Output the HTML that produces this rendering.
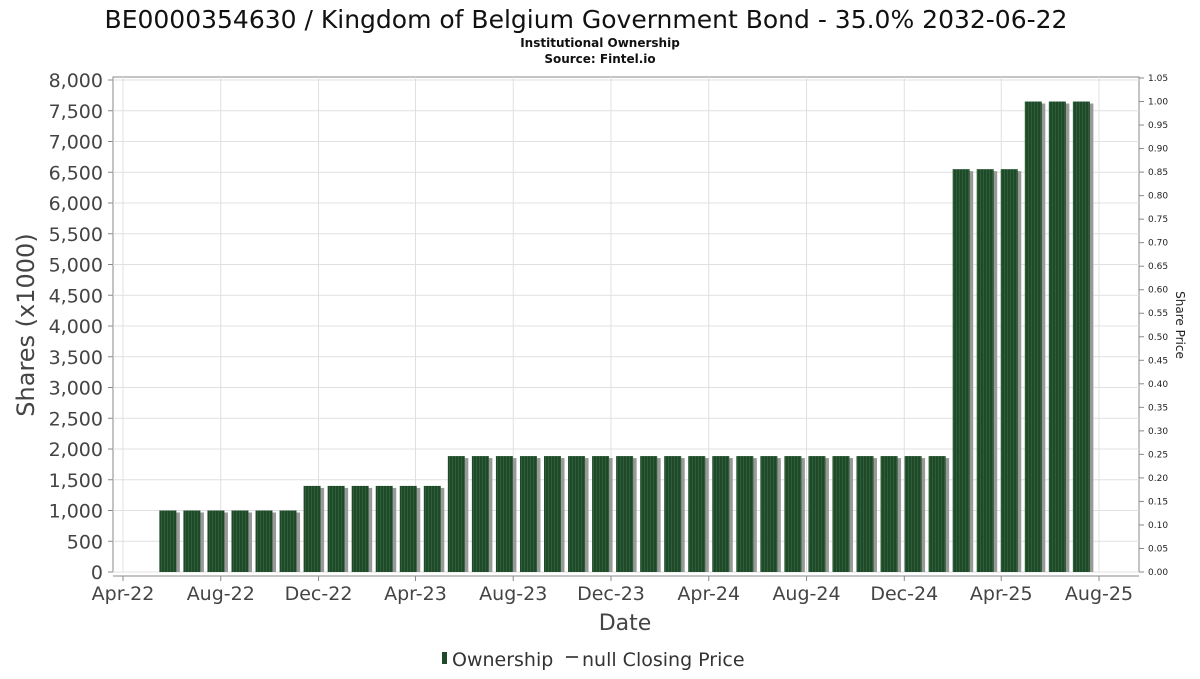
<!DOCTYPE html>
<html><head><meta charset="utf-8"><style>
body{margin:0;background:#fff;font-family:"DejaVu Sans","Liberation Sans",sans-serif;}
svg text{font-family:"DejaVu Sans","Liberation Sans",sans-serif;}
</style></head><body>
<svg id="c" width="1200" height="675" viewBox="0 0 1200 675" xmlns="http://www.w3.org/2000/svg">
<defs>
<pattern id="stripe" width="3" height="10" patternUnits="userSpaceOnUse">
<rect width="3" height="10" fill="#1e4a29"/><rect x="2" width="1" height="10" fill="#2d5e38"/>
</pattern>
</defs>
<text x="586" y="28" font-size="25" text-anchor="middle" fill="#111">BE0000354630 / Kingdom of Belgium Government Bond - 35.0% 2032-06-22</text>
<text x="600" y="47" font-size="12" font-weight="bold" text-anchor="middle" fill="#111">Institutional Ownership</text>
<text x="600" y="63" font-size="12" font-weight="bold" text-anchor="middle" fill="#111">Source: Fintel.io</text>
<rect x="113" y="77" width="1026" height="495" fill="none" stroke="#888"/>
<g id="grid"></g><g id="bars"></g><g id="axes"></g>
<text x="34" y="325" font-size="24" fill="#444" text-anchor="middle" transform="rotate(-90 34 325)">Shares (x1000)</text>
<text x="625" y="630" font-size="22" fill="#444" text-anchor="middle">Date</text>
<text x="1176" y="325" font-size="12" fill="#222" text-anchor="middle" transform="rotate(90 1176 325)">Share Price</text>
<g>
<rect x="442" y="652" width="5" height="12" fill="#1e4a29"/>
<text x="452" y="666" font-size="19" fill="#333">Ownership</text>
<line x1="566" y1="657" x2="578" y2="657" stroke="#555" stroke-width="2"/>
<text x="582" y="666" font-size="19" fill="#333">null Closing Price</text>
</g>
</svg>
<script>
const dates=["2022-05-27","2022-06-26","2022-07-26","2022-08-25","2022-09-24","2022-10-24","2022-11-23","2022-12-23","2023-01-22","2023-02-21","2023-03-23","2023-04-22","2023-05-22","2023-06-21","2023-07-21","2023-08-20","2023-09-19","2023-10-19","2023-11-18","2023-12-18","2024-01-17","2024-02-16","2024-03-17","2024-04-16","2024-05-16","2024-06-15","2024-07-15","2024-08-14","2024-09-13","2024-10-13","2024-11-12","2024-12-12","2025-01-11","2025-02-10","2025-03-12","2025-04-11","2025-05-11","2025-06-10","2025-07-10"];
const shares=[1000,1000,1000,1000,1000,1000,1400,1400,1400,1400,1400,1400,1885,1885,1885,1885,1885,1885,1885,1885,1885,1885,1885,1885,1885,1885,1885,1885,1885,1885,1885,1885,1885,6550,6550,6550,7650,7650,7650];
const yTicks=[0,500,1000,1500,2000,2500,3000,3500,4000,4500,5000,5500,6000,6500,7000,7500,8000];
const y2Ticks=["0.00","0.05","0.10","0.15","0.20","0.25","0.30","0.35","0.40","0.45","0.50","0.55","0.60","0.65","0.70","0.75","0.80","0.85","0.90","0.95","1.00","1.05"];
const xTicks=["2022-04-01","2022-08-01","2022-12-01","2023-04-01","2023-08-01","2023-12-01","2024-04-01","2024-08-01","2024-12-01","2025-04-01","2025-08-01"];
const xTickLabels=["Apr-22","Aug-22","Dec-22","Apr-23","Aug-23","Dec-23","Apr-24","Aug-24","Dec-24","Apr-25","Aug-25"];
const NS="http://www.w3.org/2000/svg";
const t0=Date.parse("2022-04-01"),t1=Date.parse("2025-08-01");
const x=d=>123+(Date.parse(d)-t0)/(t1-t0)*976;
const y=v=>572-v/8000*492;
const y2=v=>572-v/1.05*494;
function mk(tag,attrs,parent,txt){const e=document.createElementNS(NS,tag);for(const k in attrs)e.setAttribute(k,attrs[k]);if(txt!==undefined)e.textContent=txt;document.getElementById(parent).appendChild(e);return e;}
yTicks.forEach(v=>{
 const g=mk("line",{x1:113,x2:1139,y1:y(v),y2:y(v),stroke:"#e0e0e0"},"grid");
 
 
 const tk=mk("line",{x1:108,x2:113,y1:y(v),y2:y(v),stroke:"#888"},"axes");
 
 
 const l=mk("text",{x:103,y:y(v)+7,"font-size":19,"text-anchor":"end",fill:"#444"},"axes",v.toLocaleString("en-US"));
 
 
});
y2Ticks.forEach(s=>{
 const v=parseFloat(s);
 const tk=mk("line",{x1:1139,x2:1144,y1:y2(v),y2:y2(v),stroke:"#888"},"axes");
 
 
 const l=mk("text",{x:1148,y:y2(v)+3,"font-size":9,fill:"#222"},"axes",s);
 
 
});
xTicks.forEach((d,i)=>{
 const g=mk("line",{x1:x(d),x2:x(d),y1:77,y2:572,stroke:"#e0e0e0"},"grid");
 
 
 const tk=mk("line",{x1:x(d),x2:x(d),y1:576,y2:581,stroke:"#888"},"axes");
 
 
 const l=mk("text",{x:x(d),y:600,"font-size":19,"text-anchor":"middle",fill:"#444"},"axes",xTickLabels[i]);
 
 
});
const ax=mk("line",{x1:113,x2:1139,y1:576,y2:576,stroke:"#888"},"axes");


dates.forEach((d,i)=>{
 const cx=x(d),top=y(shares[i]);
 const s=mk("rect",{x:cx-8+3,y:top+2,width:17,height:572-top-2,fill:"#999"},"bars");
 
 
 const b=mk("rect",{x:cx-8.5,y:top,width:17,height:572-top,fill:"url(#stripe)"},"bars");
 
 
});
</script>
</body></html>
